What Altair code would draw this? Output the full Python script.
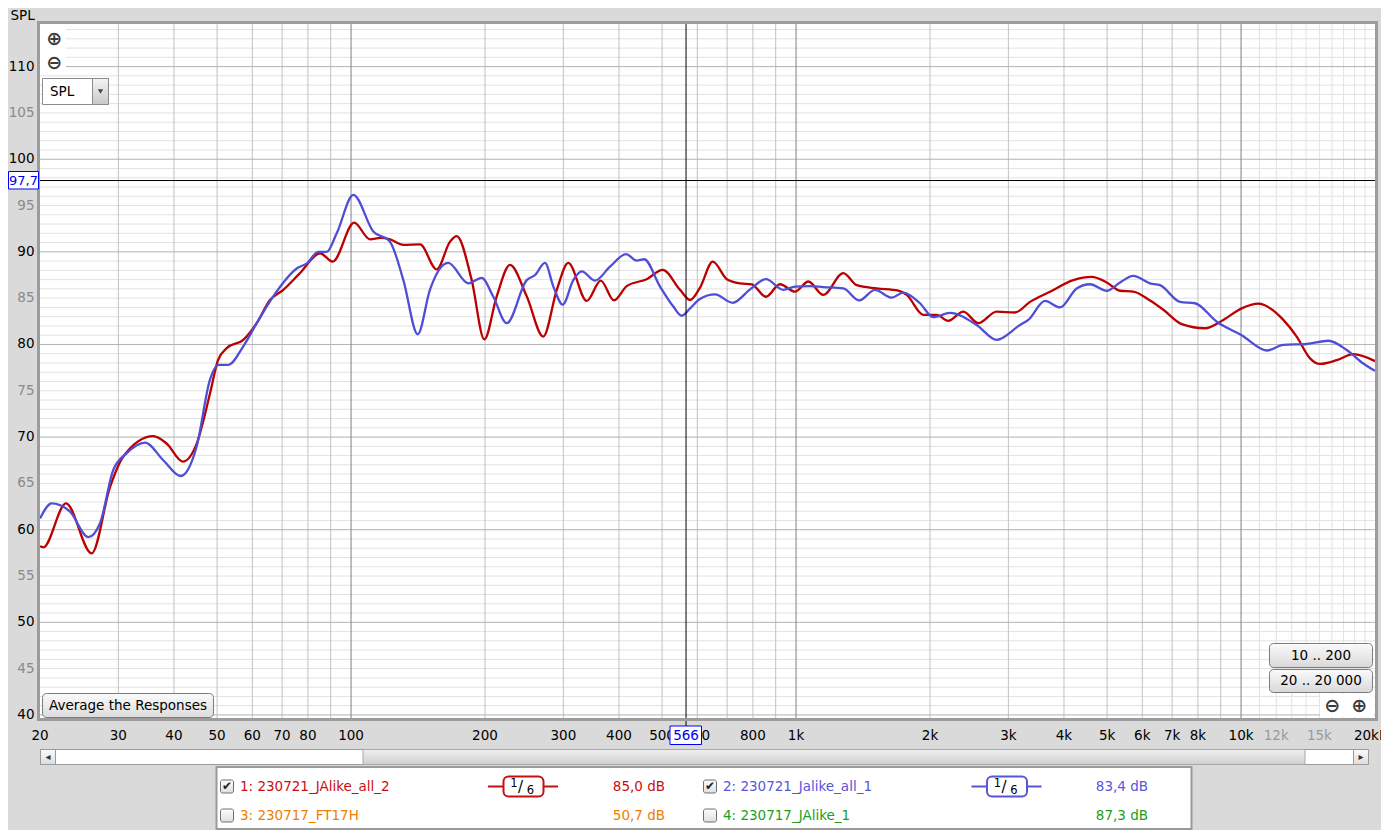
import altair as alt
import pandas as pd

FONT = "DejaVu Sans"
FS = 13.5

# ---------------- data ----------------
red_curve = [
    (20, 58.2), (20.34, 58.1), (22.88, 62.85), (26.13, 57.45), (28.73, 64.6), (30.78, 67.9),
    (35.94, 70.1), (38.53, 69.3), (41.86, 67.35), (44.99, 69.3), (48.2, 74.7), (50.24, 78.3),
    (52.57, 79.6), (57.27, 80.5), (61.38, 82.3), (65.74, 84.8), (70.44, 85.9), (76.78, 87.7),
    (85.17, 89.85), (90.96, 88.95), (101.6, 93.15), (110.3, 91.35), (116.5, 91.5), (122.3, 91.35),
    (131.1, 90.75), (142.9, 90.8), (155.8, 88.1), (166.9, 91.1), (172.8, 91.7), (186.7, 86.95),
    (199.3, 80.55), (212.5, 85.2), (227.6, 88.6), (248.2, 85.2), (270.4, 80.85), (290, 85.9),
    (307.8, 88.8), (338.6, 84.7), (364, 86.9), (389.9, 84.75), (416.4, 86.3), (461.8, 87.05),
    (501.7, 88.05), (548.6, 85.9), (578, 84.8), (608, 86.1), (650, 88.95), (699, 87.05),
    (748, 86.6), (795, 86.5), (856, 85.15), (920, 86.5), (995, 85.7), (1066, 86.8),
    (1151, 85.35), (1277, 87.7), (1369, 86.4), (1518, 86.05), (1697, 85.8), (1773, 85.35),
    (1932, 83.2), (2070, 83.2), (2199, 82.55), (2376, 83.55), (2568, 82.3), (2824, 83.55),
    (3105, 83.45), (3356, 84.6), (3722, 85.7), (4198, 86.95), (4618, 87.3), (4990, 86.7),
    (5346, 85.8), (5727, 85.7), (6244, 84.75), (6690, 83.75), (7356, 82.2), (8300, 81.75),
    (9122, 82.65), (10032, 83.9), (10936, 84.4), (12446, 82.65), (13336, 80.85), (14289, 78.5),
    (15046, 77.9), (16406, 78.3), (17880, 78.95), (20000, 78.2),
]
blue_curve = [
    (20, 61.2), (21.25, 62.85), (23.36, 61.95), (25.68, 59.2), (27.28, 60.7), (29.22, 66.45),
    (31.32, 68.25), (34.44, 69.4), (37.85, 67.5), (41.42, 65.8), (44.99, 69.0), (48.2, 76.2),
    (50.3, 77.8), (52.98, 77.8), (57.27, 79.8), (61.38, 82.3), (66.88, 85.2), (75.5, 88.2),
    (79.5, 88.75), (84.42, 90.0), (88.18, 90.0), (92.85, 92.0), (101.2, 96.15), (112.2, 92.2),
    (122.3, 91.1), (131.1, 86.95), (141.2, 81.1), (150.4, 85.9), (161.2, 88.6), (165.4, 88.8),
    (183.5, 86.6), (196.6, 87.2), (208.8, 85.15), (223.8, 82.3), (248.2, 86.95), (259.2, 87.5),
    (272.8, 88.8), (284.9, 86.25), (299, 84.3), (315.8, 86.95), (330, 87.9), (353.4, 86.9),
    (381.9, 88.4), (415, 89.75), (438.6, 89.05), (455.5, 89.2), (494.8, 86.25), (529.9, 84.1),
    (553.4, 83.1), (578, 83.9), (608, 84.9), (657.4, 85.4), (720.8, 84.5), (788.3, 85.95),
    (856, 87.05), (936.3, 85.9), (995, 86.25), (1075, 86.3), (1151, 86.2), (1277, 86.05),
    (1387, 84.75), (1504, 85.9), (1640, 85.05), (1742, 85.6), (1899, 84.45), (2034, 82.95),
    (2218, 83.4), (2546, 82.1), (2824, 80.5), (3186, 82.1), (3326, 82.65), (3626, 84.7),
    (3920, 84.0), (4272, 86.05), (4577, 86.5), (4990, 85.8), (5346, 86.7), (5727, 87.4),
    (6244, 86.6), (6577, 86.4), (7292, 84.6), (7881, 84.45), (8820, 82.45), (10032, 81.0),
    (11420, 79.35), (12446, 79.95), (14046, 80.05), (15711, 80.4), (17282, 79.4), (18822, 77.95),
    (20000, 77.15),
]
y_tick_values = [40, 45, 50, 55, 60, 65, 70, 75, 80, 85, 90, 95, 100, 105, 110]
x_tick_values = [20, 30, 40, 50, 60, 70, 80, 100, 200, 300, 400, 500, 600, 800, 1000,
                 2000, 3000, 4000, 5000, 6000, 7000, 8000, 10000, 12000, 15000, 20000]
x_tick_labels = ["20", "30", "40", "50", "60", "70", "80", "100", "200", "300", "400", "500",
                 "600", "800", "1k", "2k", "3k", "4k", "5k", "6k", "7k", "8k", "10k", "12k",
                 "15k", "20kHz"]
grid_x_minor = [30, 40, 50, 60, 70, 80, 90, 200, 300, 400, 500, 600, 700, 800, 900,
                2000, 3000, 4000, 5000, 6000, 7000, 8000, 9000]
grid_x_decade = [100, 1000, 10000]
grid_x_fine = [11000, 12000, 13000, 14000, 15000, 16000, 17000, 18000, 19000]
grid_y_major = [40, 50, 60, 70, 80, 90, 100, 110]
grid_y_minor = [v for v in range(41, 115) if v % 10 != 0]
cursor_freq = [566]
cursor_spl = [97.7]
legend_names = ["1: 230721_JAlike_all_2", "2: 230721_Jalike_all_1",
                "3: 230717_FT17H", "4: 230717_JAlike_1"]
legend_levels = ["85,0 dB", "83,4 dB", "50,7 dB", "87,3 dB"]
legend_checked = [True, True, False, False]
legend_colors = ["#c80f0f", "#5656d8", "#ee7d00", "#1c9e1c"]

RED = "#bb0000"
BLUE = "#4f4fd6"

# ---------------- scales ----------------
W, H = 1335, 694
XS = alt.Scale(type="log", domain=[20, 20000], nice=False)
YS = alt.Scale(domain=[39.67, 114.6], nice=False, zero=False)
OX, OY = 40, 24  # page position of plot origin
dummy = pd.DataFrame({"d": [0]})


def vrules(vals, color, w=1.0):
    return alt.Chart(pd.DataFrame({"f": vals})).mark_rule(color=color, strokeWidth=w).encode(
        x=alt.X("f:Q", scale=XS, axis=None))


def hrules(vals, color, w=1.0):
    return alt.Chart(pd.DataFrame({"v": vals})).mark_rule(color=color, strokeWidth=w).encode(
        y=alt.Y("v:Q", scale=YS, axis=None))


def curve(points, color):
    df = pd.DataFrame(points, columns=["freq", "spl"])
    return alt.Chart(df).mark_line(color=color, strokeWidth=2.3, interpolate="monotone",
                                   clip=True).encode(
        x=alt.X("freq:Q", scale=XS, axis=None), y=alt.Y("spl:Q", scale=YS, axis=None))


def grad(c1, c2):
    return alt.Gradient(gradient="linear",
                        stops=[alt.GradientStop(color=c1, offset=0),
                               alt.GradientStop(color=c2, offset=1)],
                        x1=0, x2=0, y1=0, y2=1)


def box(x1, y1, x2, y2, fill=None, stroke=None, sw=1, r=0):
    kw = {}
    if fill is None:
        kw["fillOpacity"] = 0
    else:
        kw["fill"] = fill
    if stroke is not None:
        kw["stroke"] = stroke
        kw["strokeWidth"] = sw
    if r:
        kw["cornerRadius"] = r
    return alt.Chart(dummy).mark_rect(**kw).encode(
        x=alt.value(x1 - OX), x2=alt.value(x2 - OX), y=alt.value(y1 - OY), y2=alt.value(y2 - OY))


def label(x, y, s, color="#000000", size=FS, align="center", weight="normal"):
    return alt.Chart(dummy).mark_text(text=s, font=FONT, fontSize=size, color=color, align=align,
                                      baseline="middle", fontWeight=weight).encode(
        x=alt.value(x - OX), y=alt.value(y - OY))


def hline(x1, x2, y, color, w):
    return alt.Chart(dummy).mark_rule(color=color, strokeWidth=w).encode(
        x=alt.value(x1 - OX), x2=alt.value(x2 - OX), y=alt.value(y - OY))


layers = []
# grid
layers.append(hrules(grid_y_minor, "#e2e2e2"))
layers.append(vrules(grid_x_fine, "#e2e2e2"))
layers.append(vrules(grid_x_minor, "#c2c2c2"))
layers.append(hrules(grid_y_major, "#b2b2b2"))
layers.append(vrules(grid_x_decade, "#808080"))
# white patches behind the zoom icons
layers.append(box(40, 25, 66, 75, fill="white"))
layers.append(box(1320, 694, 1374, 717, fill="white"))

# curves
layers.append(curve(red_curve, RED))
layers.append(curve(blue_curve, BLUE))

# cursor
layers.append(alt.Chart(pd.DataFrame({"f": cursor_freq})).mark_rule(color="black", strokeWidth=1).encode(
    x=alt.X("f:Q", scale=XS, axis=None), y=alt.value(0), y2=alt.value(702)))
layers.append(alt.Chart(pd.DataFrame({"v": cursor_spl})).mark_rule(color="black", strokeWidth=1).encode(
    y=alt.Y("v:Q", scale=YS, axis=None), x=alt.value(-1.5), x2=alt.value(W)))

# plot frame
layers.append(box(38.5, 22.5, 1376.5, 719.5, stroke="#9c9c9c", sw=3))

# y tick labels
layers.append(alt.Chart(pd.DataFrame({"v": y_tick_values})).mark_text(
    align="right", baseline="middle", font=FONT, fontSize=FS).encode(
    y=alt.Y("v:Q", scale=YS, axis=None), x=alt.value(-5.5), text=alt.Text("v:Q"),
    color=alt.condition("datum.v % 10 == 0", alt.value("#000000"), alt.value("#8a8a8a"))))
# x tick labels
layers.append(alt.Chart(pd.DataFrame({"f": x_tick_values, "t": x_tick_labels})).mark_text(
    align="center", baseline="middle", font=FONT, fontSize=FS).encode(
    x=alt.X("f:Q", scale=XS, axis=None), y=alt.value(712), text=alt.Text("t:N"),
    color=alt.condition("datum.f > 10000 && datum.f < 20000", alt.value("#9a9a9a"),
                        alt.value("#000000"))))

# cursor readouts
layers.append(box(8.5, 171.5, 38.5, 189, fill="white", stroke="#0000ff", sw=1))
layers.append(alt.Chart(pd.DataFrame({"v": cursor_spl})).transform_calculate(
    lab="replace(format(datum.v, '.1f'), '.', ',')").mark_text(
    align="center", baseline="middle", font=FONT, fontSize=13, color="#0000ee").encode(
    y=alt.Y("v:Q", scale=YS, axis=None), x=alt.value(23.5 - OX), text=alt.Text("lab:N")))
layers.append(box(670, 726, 701.5, 744.5, fill="white", stroke="#0000ff", sw=1))
layers.append(alt.Chart(pd.DataFrame({"f": cursor_freq})).mark_text(
    align="center", baseline="middle", font=FONT, fontSize=FS, color="#0000ee").encode(
    x=alt.X("f:Q", scale=XS, axis=None), y=alt.value(735.5 - OY), text=alt.Text("f:Q")))

# top-left controls
layers.append(label(10.5, 16, "SPL", align="left"))
layers.append(label(54.3, 39, "⊕", color="#3a3a3a", size=19, weight="bold"))
layers.append(label(54.3, 63.3, "⊖", color="#3a3a3a", size=19, weight="bold"))
layers.append(box(42.5, 78.5, 108.5, 104.5, fill="white", stroke="#8c8c8c"))
layers.append(box(92.5, 78.5, 108.5, 104.5, fill=grad("#f4f4f4", "#c8c8c8"), stroke="#8c8c8c"))
layers.append(alt.Chart(dummy).mark_point(shape="triangle-down", filled=True, size=28,
                                          color="#444444", opacity=1).encode(
    x=alt.value(100.5 - OX), y=alt.value(91.5 - OY)))
layers.append(label(50, 92, "SPL", align="left"))

# bottom-left button
layers.append(box(42.5, 693.5, 213.5, 717.5, fill=grad("#fbfbfb", "#dcdcdc"), stroke="#7c7c7c", r=4))
layers.append(label(128, 705.5, "Average the Responses"))

# bottom-right buttons
layers.append(box(1269.5, 643.5, 1372.5, 667.5, fill=grad("#fbfbfb", "#d8d8d8"), stroke="#7c7c7c", r=4))
layers.append(label(1321, 655.5, "10 .. 200"))
layers.append(box(1269.5, 669.5, 1372.5, 692.5, fill=grad("#fbfbfb", "#d8d8d8"), stroke="#7c7c7c", r=4))
layers.append(label(1321, 681, "20 .. 20 000"))
layers.append(label(1332.3, 705.7, "⊖", color="#3a3a3a", size=19, weight="bold"))
layers.append(label(1359.3, 705.7, "⊕", color="#3a3a3a", size=19, weight="bold"))

# scrollbar
layers.append(box(40.5, 749.5, 1368.5, 764.5, fill="white", stroke="#9a9a9a"))
layers.append(box(363, 749.5, 1305, 764.5, fill=grad("#f0f0f0", "#cfcfcf"), stroke="#a8a8a8"))
layers.append(box(40.5, 749.5, 55.5, 764.5, fill=grad("#fafafa", "#dddddd"), stroke="#9a9a9a"))
layers.append(box(1353.5, 749.5, 1368.5, 764.5, fill=grad("#fafafa", "#dddddd"), stroke="#9a9a9a"))
layers.append(label(48, 757, "◂", color="#333333", size=10))
layers.append(label(1361, 757, "▸", color="#333333", size=10))

# legend panel
layers.append(box(216.5, 767, 1191.5, 829, fill="white", stroke="#9a9a9a", sw=2))
rows_y = [786.5, 786.5, 815.5, 815.5]
cb_x = [220.5, 703.5, 220.5, 703.5]
name_x = [240, 723, 240, 723]
level_x = [665, 1148, 665, 1148]
for i in range(4):
    y = rows_y[i]
    layers.append(box(cb_x[i], y - 6.5, cb_x[i] + 13, y + 6.5, fill=grad("#fdfdfd", "#dedede"),
                      stroke="#6e6e6e", r=2))
    if legend_checked[i]:
        layers.append(label(cb_x[i] + 6.5, y - 0.5, "✔", color="#222222", size=12))
    layers.append(label(name_x[i], y, legend_names[i], color=legend_colors[i], align="left"))
    layers.append(label(level_x[i], y, legend_levels[i], color=legend_colors[i], align="right"))
# smoothing icons (1/6 octave)
for x0, col in [(488, legend_colors[0]), (971.5, legend_colors[1])]:
    layers.append(hline(x0, x0 + 70, 786.5, col, 2))
    layers.append(box(x0 + 15.5, 776.5, x0 + 55.5, 796.5, fill="white", stroke=col, sw=2, r=5))
    layers.append(label(x0 + 26, 783.5, "1", size=11.5))
    layers.append(label(x0 + 32.5, 787, "/", size=15))
    layers.append(label(x0 + 42.5, 791, "6", size=11.5))

chart = alt.layer(*layers).properties(
    width=W, height=H,
    padding={"left": 32, "top": 16, "right": 6, "bottom": 112},
    autosize=alt.AutoSizeParams(type="none"),
    background="#dadada",
).configure_view(fill="white", strokeWidth=0)

chart.save("out.html", embed_options={"renderer": "svg", "actions": False})
